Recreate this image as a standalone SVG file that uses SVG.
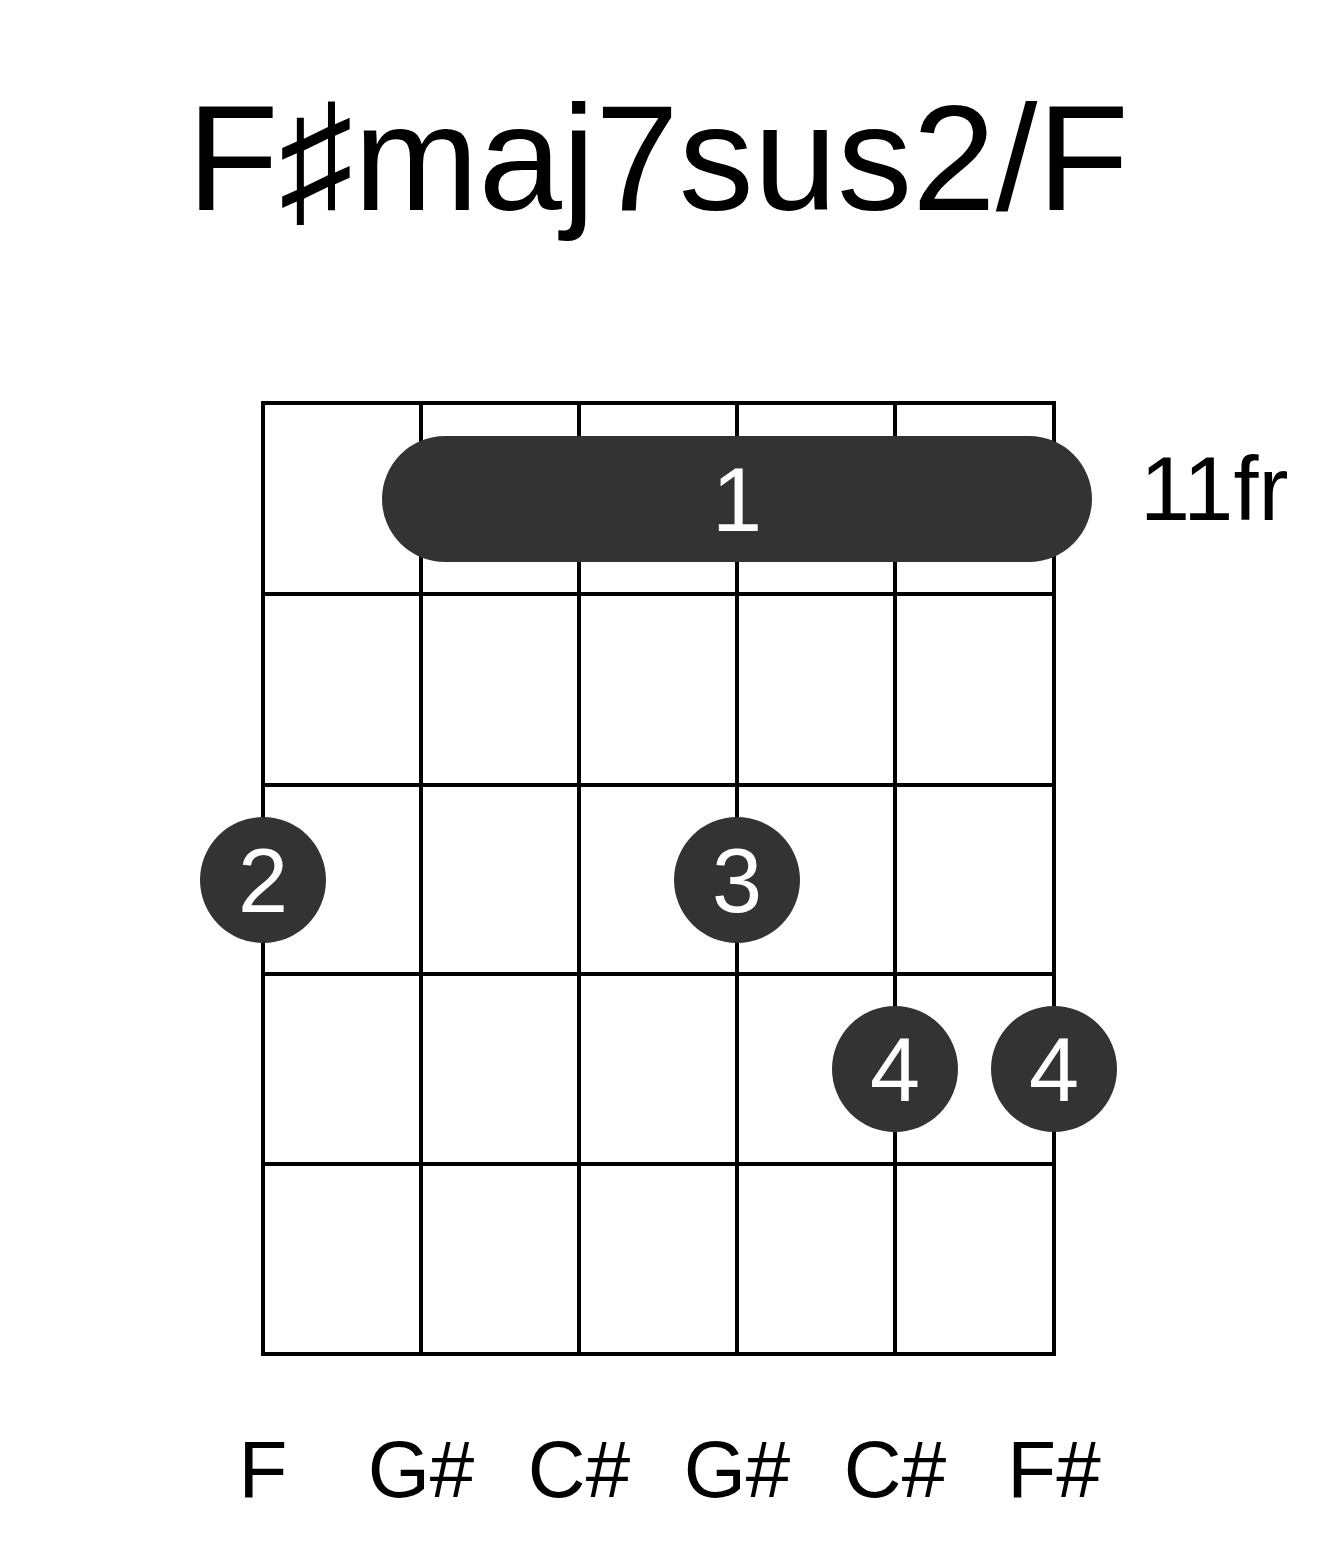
<svg xmlns="http://www.w3.org/2000/svg" width="1317" height="1551" viewBox="0 0 1317 1551">
<style>
.t{font-family:"Liberation Sans",Arial,sans-serif;fill:#000}
.g{stroke:#000;stroke-width:4;fill:none}
.d{fill:#333}
.f{font-family:"Liberation Sans",Arial,sans-serif;fill:#fff;font-size:90px;text-anchor:middle}
.n{font-family:"Liberation Sans",Arial,sans-serif;font-size:80px;text-anchor:middle}
</style>
<rect width="1317" height="1551" fill="#fff"/>
<text class="t" x="658" y="210" font-size="150" text-anchor="middle">F♯maj7sus2/F</text>
<g id="grid" class="g">
<rect x="263" y="403" width="791" height="951"/>
<path d="M421 403V1354M579 403V1354M737 403V1354M895 403V1354M263 594H1054M263 785H1054M263 974H1054M263 1164H1054"/>
</g>
<g id="barre"><rect class="d" x="382" y="436" width="710" height="126" rx="63"/><text class="f" x="737" y="531">1</text></g>
<g id="f2"><circle class="d" cx="263" cy="880" r="63"/><text class="f" x="263" y="912">2</text></g>
<g id="f3"><circle class="d" cx="737" cy="880" r="63"/><text class="f" x="737" y="912">3</text></g>
<g id="f4a"><circle class="d" cx="895" cy="1069" r="63"/><text class="f" x="895" y="1101">4</text></g>
<g id="f4b"><circle class="d" cx="1054" cy="1069" r="63"/><text class="f" x="1054" y="1101">4</text></g>
<text class="t" x="1140" y="520" font-size="90">11fr</text>
<g id="notes" class="t">
<text class="n" x="263" y="1497">F</text>
<text class="n" x="421" y="1497">G#</text>
<text class="n" x="579" y="1497">C#</text>
<text class="n" x="737" y="1497">G#</text>
<text class="n" x="895" y="1497">C#</text>
<text class="n" x="1054" y="1497">F#</text>
</g>
</svg>
